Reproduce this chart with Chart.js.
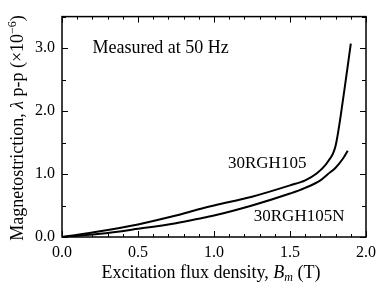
<!DOCTYPE html>
<html><head><meta charset="utf-8">
<script src="https://cdn.jsdelivr.net/npm/chart.js@4/dist/chart.umd.min.js"></script>
<style>html,body{margin:0;padding:0;background:#fff}#w{width:382px;height:290px}</style>
</head><body><div id="w"><canvas id="c"></canvas></div>
<script>
const seriesNames = ["30RGH105", "30RGH105N"];
const fluxA = [0, 0.25, 0.5, 0.75, 0.9, 1.0, 1.25, 1.5, 1.6, 1.67, 1.75, 1.8, 1.85, 1.9];
const lambdaA = [0, 0.09, 0.2, 0.34, 0.44, 0.5, 0.64, 0.82, 0.9, 1.0, 1.2, 1.45, 2.2, 3.07];
const fluxB = [0, 0.25, 0.5, 0.75, 0.9, 1.0, 1.25, 1.5, 1.6, 1.7, 1.75, 1.8, 1.85, 1.88];
const lambdaB = [0, 0.05, 0.13, 0.22, 0.29, 0.34, 0.5, 0.69, 0.78, 0.9, 1.0, 1.1, 1.25, 1.37];
const xTicks = [0, 0.5, 1.0, 1.5, 2.0];
const yTicks = [0, 1.0, 2.0, 3.0];
const annotationText = "Measured at 50 Hz";

const SERIF = '"Liberation Serif", "DejaVu Serif", serif';
const toPts = (xs, ys) => xs.map((x, i) => ({x: x, y: ys[i]}));

const decor = {
  id: 'decor',
  afterDraw(chart) {
    const ctx = chart.ctx, a = chart.chartArea;
    const xs = chart.scales.x, ys = chart.scales.y;
    ctx.save();
    ctx.strokeStyle = '#000'; ctx.lineWidth = 1.5;
    ctx.strokeRect(a.left, a.top, a.right - a.left, a.bottom - a.top);
    ctx.lineWidth = 1;
    ctx.beginPath();
    for (let i = 0; i <= 20; i++) {
      const v = i / 10, px = Math.round(xs.getPixelForValue(v)) + 0.5;
      const len = (i % 5 === 0) ? 6 : 3;
      ctx.moveTo(px, a.bottom); ctx.lineTo(px, a.bottom - len);
      ctx.moveTo(px, a.top); ctx.lineTo(px, a.top + len);
    }
    for (let i = 0; i <= 7; i++) {
      const v = i * 0.5, py = Math.round(ys.getPixelForValue(v)) + 0.5;
      const len = (i % 2 === 0) ? 6 : 4;
      ctx.moveTo(a.left, py); ctx.lineTo(a.left + len, py);
      ctx.moveTo(a.right, py); ctx.lineTo(a.right - len, py);
    }
    ctx.stroke();
    ctx.fillStyle = '#000';
    ctx.textBaseline = 'middle';
    ctx.textAlign = 'left';
    ctx.font = '18px ' + SERIF;
    ctx.fillText(annotationText, xs.getPixelForValue(0.2), ys.getPixelForValue(3.0));
    ctx.textAlign = 'center';
    ctx.font = '17px ' + SERIF;
    ctx.fillText(seriesNames[0], xs.getPixelForValue(1.35), ys.getPixelForValue(1.17));
    ctx.fillText(seriesNames[1], xs.getPixelForValue(1.56), ys.getPixelForValue(0.32));
    // x title
    const FS = 18;
    ctx.textBaseline = 'alphabetic';
    const p1 = 'Excitation flux density, ', p2 = 'B', p3 = 'm', p4 = ' (T)';
    ctx.font = FS + 'px ' + SERIF; const w1 = ctx.measureText(p1).width, w4 = ctx.measureText(p4).width;
    ctx.font = 'italic ' + FS + 'px ' + SERIF; const w2 = ctx.measureText(p2).width;
    ctx.font = 'italic 12px ' + SERIF; const w3 = ctx.measureText(p3).width;
    let x0 = (a.left + a.right) / 2 - (w1 + w2 + w3 + w4) / 2 - 3, yb = 278;
    ctx.textAlign = 'left';
    ctx.font = FS + 'px ' + SERIF; ctx.fillText(p1, x0, yb); x0 += w1;
    ctx.font = 'italic ' + FS + 'px ' + SERIF; ctx.fillText(p2, x0, yb); x0 += w2;
    ctx.font = 'italic 12px ' + SERIF; ctx.fillText(p3, x0, yb + 3); x0 += w3;
    ctx.font = FS + 'px ' + SERIF; ctx.fillText(p4, x0, yb);
    // y title
    ctx.translate(23, 128);
    ctx.rotate(-Math.PI / 2);
    const q1 = 'Magnetostriction, ', q2 = 'λ', q3 = ' p-p (×10', q4 = '−6', q5 = ')';
    ctx.font = FS + 'px ' + SERIF; const v1 = ctx.measureText(q1).width, v3 = ctx.measureText(q3).width, v5 = ctx.measureText(q5).width;
    ctx.font = 'italic ' + FS + 'px ' + SERIF; const v2 = ctx.measureText(q2).width;
    ctx.font = '12px ' + SERIF; const v4 = ctx.measureText(q4).width;
    let t = -(v1 + v2 + v3 + v4 + v5) / 2;
    ctx.font = FS + 'px ' + SERIF; ctx.fillText(q1, t, 0); t += v1;
    ctx.font = 'italic ' + FS + 'px ' + SERIF; ctx.fillText(q2, t, 0); t += v2;
    ctx.font = FS + 'px ' + SERIF; ctx.fillText(q3, t, 0); t += v3;
    ctx.font = '12px ' + SERIF; ctx.fillText(q4, t, -7); t += v4;
    ctx.font = FS + 'px ' + SERIF; ctx.fillText(q5, t, 0);
    ctx.restore();
  }
};

new Chart(document.getElementById('c'), {
  type: 'line',
  data: {
    datasets: [
      {label: seriesNames[0], data: toPts(fluxA, lambdaA), borderColor: '#000', borderWidth: 2, pointRadius: 0, cubicInterpolationMode: 'monotone', fill: false},
      {label: seriesNames[1], data: toPts(fluxB, lambdaB), borderColor: '#000', borderWidth: 2, pointRadius: 0, cubicInterpolationMode: 'monotone', fill: false}
    ]
  },
  options: {
    responsive: true, maintainAspectRatio: false, animation: false,
    layout: {padding: {top: 10, right: 11, left: 0, bottom: 0}},
    plugins: {legend: {display: false}, tooltip: {enabled: false}},
    scales: {
      x: {
        type: 'linear', min: 0, max: 2.0,
        afterBuildTicks: s => { s.ticks = xTicks.map(v => ({value: v})); },
        afterFit: s => { s.height = 53; },
        grid: {display: false, drawTicks: false},
        border: {display: false},
        ticks: {color: '#000', font: {family: SERIF, size: 16}, padding: 6, callback: v => v.toFixed(1), maxRotation: 0}
      },
      y: {
        type: 'linear', min: 0, max: 3.5,
        afterBuildTicks: s => { s.ticks = yTicks.map(v => ({value: v})); },
        afterFit: s => { s.width = 62; },
        grid: {display: false, drawTicks: false},
        border: {display: false},
        ticks: {color: '#000', font: {family: SERIF, size: 16}, padding: 7, callback: v => v.toFixed(1)}
      }
    }
  },
  plugins: [decor]
});
</script></body></html>
